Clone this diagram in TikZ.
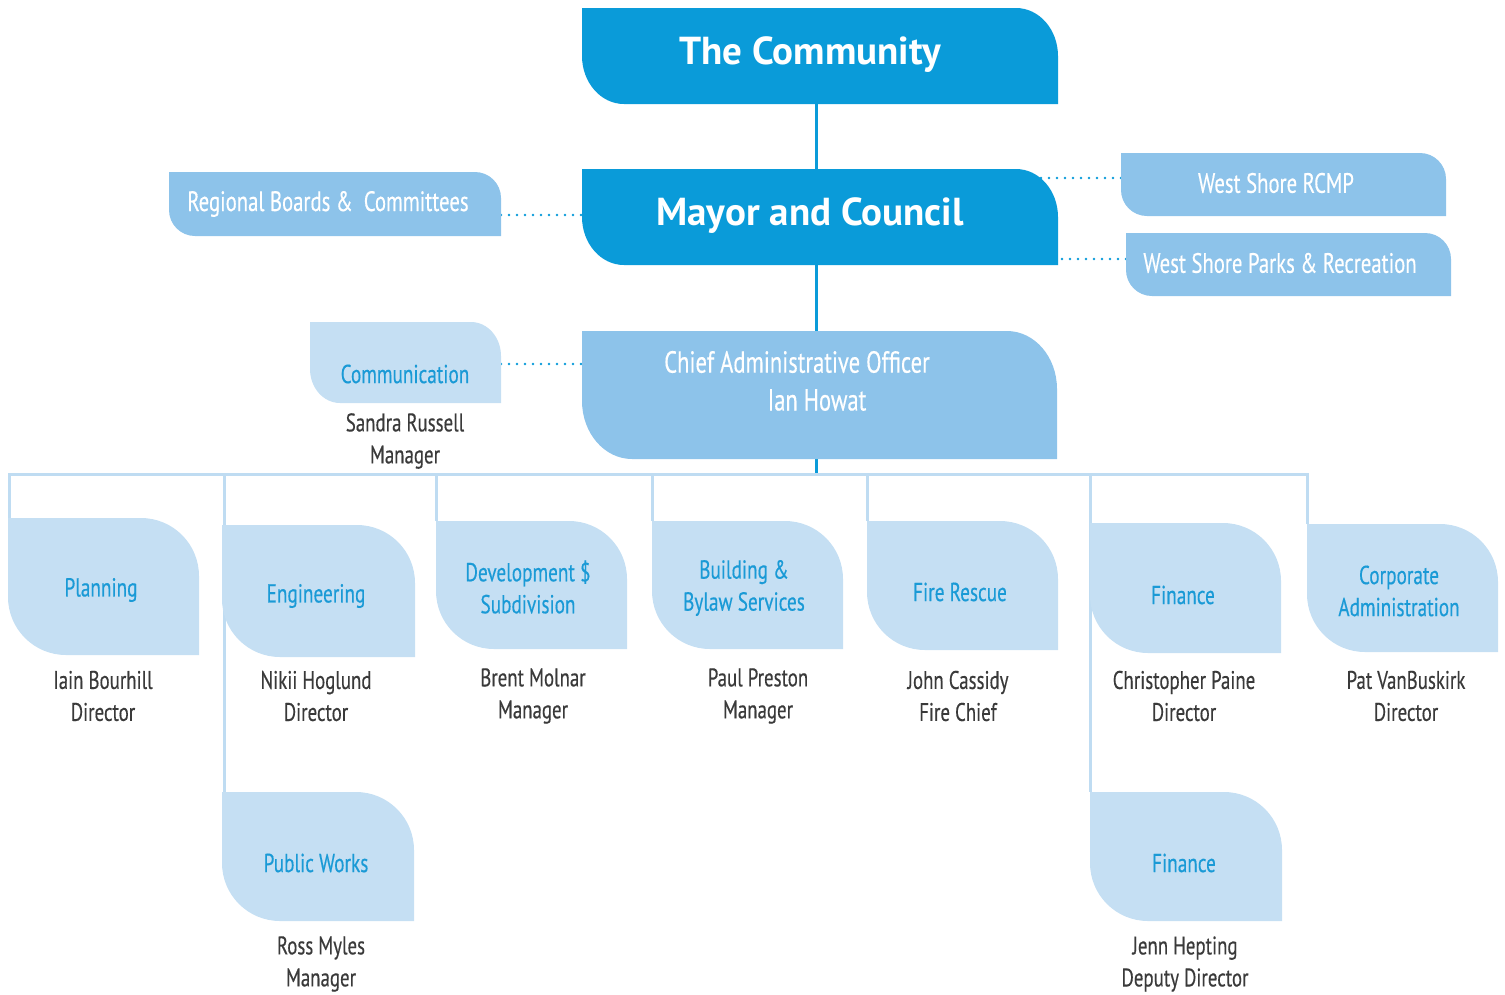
\documentclass[tikz,border=0pt]{standalone}
\usepackage{fontspec}
\setmainfont{PT Sans}
\newfontfamily\condfont[FakeStretch=0.74, FakeBold=0.35]{PT Sans}
\usetikzlibrary{backgrounds}

\definecolor{deepblue}{HTML}{0A9BD9}
\definecolor{midblue}{HTML}{8DC3EA}
\definecolor{paleblue}{HTML}{C5DFF3}
\definecolor{busblue}{HTML}{BFDCF2}
\definecolor{depttext}{HTML}{1A9AD6}
\definecolor{nametext}{HTML}{3A3A3A}

\tikzset{
  % rectangle with rounded top-right and bottom-left corners
  leafbox/.style n args={3}{
    inner sep=0pt, outer sep=0pt,
    path picture={
      \fill[#1] (path picture bounding box.north west)
        -- ([xshift=-#2]path picture bounding box.north east)
        arc[start angle=90, end angle=0, x radius=#2, y radius=#3]
        -- (path picture bounding box.south east)
        -- ([xshift=#2]path picture bounding box.south west)
        arc[start angle=270, end angle=180, x radius=#2, y radius=#3]
        -- cycle;
    }
  },
  boxsize/.style 2 args={minimum width=#1pt, minimum height=#2pt},
  deptbox/.style={leafbox={paleblue}{58pt}{58pt}},
  spine/.style={draw=deepblue, line width=3pt},
  bus/.style={draw=busblue, line width=3pt},
  dotline/.style={draw=deepblue, line width=2.7pt, line cap=round, dash pattern=on 0pt off 8pt},
  txthead/.style={inner sep=0pt, text=white, font=\bfseries\fontsize{39}{44}\selectfont},
  txtmid/.style={inner sep=0pt, text=white, font=\condfont\fontsize{28}{32}\selectfont},
  txtcao/.style={inner sep=0pt, text=white, font=\condfont\fontsize{30.5}{34}\selectfont},
  txtdept/.style={inner sep=0pt, text=depttext, align=center, font=\condfont\fontsize{26}{32}\selectfont},
  txtname/.style={inner sep=0pt, text=nametext, align=center, font=\condfont\fontsize{25.5}{32}\selectfont},
}

\begin{document}
\begin{tikzpicture}[x=1pt, y=-1pt]
\useasboundingbox (0,0) rectangle (1505,994);

% top levels
\node[leafbox={deepblue}{42pt}{48pt}, boxsize={476}{96}] (community) at (820,56) {};
\node[leafbox={deepblue}{42pt}{48pt}, boxsize={476}{96}] (mayor) at (820,217) {};
\node[leafbox={midblue}{50pt}{58pt}, boxsize={475}{128}] (cao) at (819.5,395) {};

% side bodies
\node[leafbox={midblue}{26pt}{26pt}, boxsize={332}{64}] (regional) at (335,204) {};
\node[leafbox={midblue}{26pt}{26pt}, boxsize={325}{63}] (rcmp) at (1283.5,184.5) {};
\node[leafbox={midblue}{26pt}{26pt}, boxsize={325}{63}] (parks) at (1288.5,264.5) {};
\node[leafbox={paleblue}{30pt}{34pt}, boxsize={191}{81}] (commbox) at (405.5,362.5) {};

% departments
\node[deptbox, boxsize={191}{137}] (plan) at (103.5,586.5) {};
\node[deptbox, boxsize={193}{132}] (eng) at (318.5,591) {};
\node[deptbox, boxsize={191}{128}] (dev) at (531.5,585) {};
\node[deptbox, boxsize={191}{128}] (build) at (747.5,585) {};
\node[deptbox, boxsize={191}{129}] (fire) at (962.5,585.5) {};
\node[deptbox, boxsize={191}{130}] (fin) at (1185.5,588) {};
\node[deptbox, boxsize={191}{128}] (corp) at (1402.5,588) {};
\node[deptbox, boxsize={192}{129}] (pw) at (318,856.5) {};
\node[deptbox, boxsize={192}{129}] (fin2) at (1186,856.5) {};

% texts
\node[txthead] (tcommunity) at (810,55) {The Community};
\node[txthead] (tmayor) at (810,216) {Mayor and Council};
\node[txtmid] (tregional) at (328,204) {Regional Boards \& \ Committees};
\node[txtmid] (trcmp) at (1276,183) {West Shore RCMP};
\node[txtmid] (tparks) at (1280,263) {West Shore Parks \& Recreation};
\node[txtcao] (tcao) at (797,362) {Chief Administrative Officer};
\node[txtcao] (tcaoname) at (817,400) {Ian Howat};
\node[txtdept] (tcomm) at (405,374) {Communication};
\node[txtname] (ncomm) at (405,441) {Sandra Russell\\Manager};

\node[txtdept] (tplan) at (101,590) {Planning};
\node[txtname] (nplan) at (103,696) {Iain Bourhill\\Director};
\node[txtdept] (teng) at (316,596) {Engineering};
\node[txtname] (neng) at (316,696) {Nikii Hoglund\\Director};
\node[txtdept] (tdev) at (528,587) {Development \$\\Subdivision};
\node[txtname] (ndev) at (533,696) {Brent Molnar\\Manager};
\node[txtdept] (tbuild) at (744,588) {Building \&\\Bylaw Services};
\node[txtname] (nbuild) at (758,696) {Paul Preston\\Manager};
\node[txtdept] (tfire) at (960,592) {Fire Rescue};
\node[txtname] (nfire) at (958,696) {John Cassidy\\Fire Chief};
\node[txtdept] (tfin) at (1183,595) {Finance};
\node[txtname] (nfin) at (1184,696) {Christopher Paine\\Director};
\node[txtdept] (tcorp) at (1399,591) {Corporate\\Administration};
\node[txtname] (ncorp) at (1406,696) {Pat VanBuskirk\\Director};
\node[txtdept] (tpw) at (316,863) {Public Works};
\node[txtname] (npw) at (321,964) {Ross Myles\\Manager};
\node[txtdept] (tfin2) at (1184,863) {Finance};
\node[txtname] (nfin2) at (1185,964) {Jenn Hepting\\Deputy Director};

% connectors
\coordinate (busc) at (816,474);
\coordinate (rbdot) at ([yshift=-11pt]regional.east);
\coordinate (rcdot) at ([yshift=6.5pt]rcmp.west);
\coordinate (pkdot) at ([yshift=5.5pt]parks.west);
\coordinate (cmdot) at ([yshift=-1.5pt]commbox.east);

\begin{scope}[on background layer]
  \draw[spine] ([xshift=-4pt]community.south) -- ([xshift=-4pt]mayor.north);
  \draw[spine] ([xshift=-4pt]mayor.south) -- ([xshift=-3.5pt]cao.north);
  \draw[spine] ([xshift=-3.5pt]cao.south) -- (busc);

  \draw[bus] ([xshift=1pt]plan.north west) -- ([xshift=1pt]plan.north west |- busc)
    -- (corp.north west |- busc) -- (corp.north west);
  \draw[bus] ([xshift=2pt]eng.north west |- busc) -- ([xshift=2pt]pw.north west);
  \draw[bus] (dev.north west |- busc) -- (dev.north west);
  \draw[bus] (build.north west |- busc) -- (build.north west);
  \draw[bus] (fire.north west |- busc) -- (fire.north west);
  \draw[bus] (fin.north west |- busc) -- (fin2.north west);

  % dotted links run under the boxes they join
  \draw[dotline] (rbdot) -- (rbdot -| mayor.center);
  \draw[dotline] (rcdot) -- (rcdot -| mayor.center);
  \draw[dotline] (pkdot) -- (pkdot -| mayor.center);
  \draw[dotline] (cmdot) -- (cmdot -| cao.center);
\end{scope}
\end{tikzpicture}
\end{document}
